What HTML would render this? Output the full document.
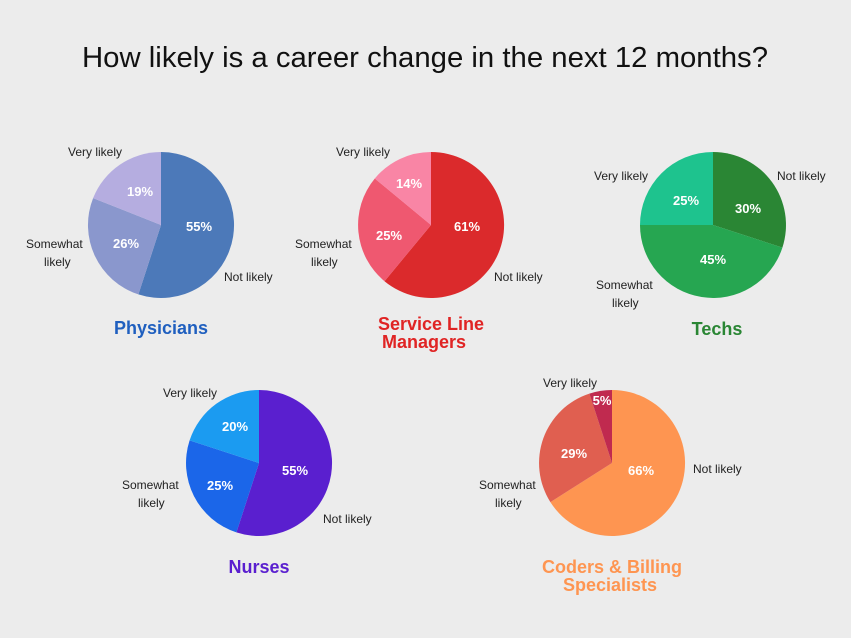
<!DOCTYPE html>
<html><head><meta charset="utf-8"><style>
html,body{margin:0;padding:0;background:#ececec;}
svg{display:block;font-family:"Liberation Sans",Arial,sans-serif;}
.l{font-size:12px;fill:#222;}
.p{font-size:13px;fill:#fff;font-weight:bold;text-anchor:middle;}
.t{font-size:18px;font-weight:bold;text-anchor:middle;}
</style></head><body>
<svg width="851" height="638" viewBox="0 0 851 638">
<rect width="851" height="638" fill="#ececec"/>
<text x="425" y="67" text-anchor="middle" font-size="29" fill="#111" textLength="686" lengthAdjust="spacingAndGlyphs">How likely is a career change in the next 12 months?</text>

<!-- Physicians -->
<path d="M161,225 L161,152 A73,73 0 1,1 138.4,294.4 Z" fill="#4c79b9"/>
<path d="M161,225 L138.4,294.4 A73,73 0 0,1 93.1,198.1 Z" fill="#8a97cd"/>
<path d="M161,225 L93.1,198.1 A73,73 0 0,1 161,152 Z" fill="#b5ade0"/>
<text class="p" x="199" y="231">55%</text>
<text class="p" x="126" y="248">26%</text>
<text class="p" x="140" y="196">19%</text>
<text class="l" x="68" y="156">Very likely</text>
<text class="l" x="26" y="248">Somewhat</text>
<text class="l" x="44" y="266">likely</text>
<text class="l" x="224" y="281">Not likely</text>
<text class="t" x="161" y="334" fill="#1f5fbf">Physicians</text>

<!-- Service Line -->
<path d="M431,225 L431,152 A73,73 0 1,1 384.5,281.2 Z" fill="#db2a2c"/>
<path d="M431,225 L384.5,281.2 A73,73 0 0,1 374.8,178.5 Z" fill="#ef5870"/>
<path d="M431,225 L374.8,178.5 A73,73 0 0,1 431,152 Z" fill="#f985a5"/>
<text class="p" x="467" y="231">61%</text>
<text class="p" x="389" y="240">25%</text>
<text class="p" x="409" y="188">14%</text>
<text class="l" x="336" y="156">Very likely</text>
<text class="l" x="295" y="248">Somewhat</text>
<text class="l" x="311" y="266">likely</text>
<text class="l" x="494" y="281">Not likely</text>
<text class="t" x="431" y="330" fill="#e02424">Service Line</text>
<text class="t" x="424" y="348" fill="#e02424">Managers</text>

<!-- Techs -->
<path d="M713,225 L713,152 A73,73 0 0,1 782.4,247.6 Z" fill="#2a8634"/>
<path d="M713,225 L782.4,247.6 A73,73 0 0,1 640,225 Z" fill="#26a651"/>
<path d="M713,225 L640,225 A73,73 0 0,1 713,152 Z" fill="#1ec38e"/>
<text class="p" x="748" y="213">30%</text>
<text class="p" x="713" y="264">45%</text>
<text class="p" x="686" y="205">25%</text>
<text class="l" x="594" y="180">Very likely</text>
<text class="l" x="777" y="180">Not likely</text>
<text class="l" x="596" y="289">Somewhat</text>
<text class="l" x="612" y="307">likely</text>
<text class="t" x="717" y="335" fill="#2a8634">Techs</text>

<!-- Nurses -->
<path d="M259,463 L259,390 A73,73 0 1,1 236.4,532.4 Z" fill="#5a1fcf"/>
<path d="M259,463 L236.4,532.4 A73,73 0 0,1 189.6,440.4 Z" fill="#1b66e9"/>
<path d="M259,463 L189.6,440.4 A73,73 0 0,1 259,390 Z" fill="#1b9bf1"/>
<text class="p" x="295" y="475">55%</text>
<text class="p" x="220" y="490">25%</text>
<text class="p" x="235" y="431">20%</text>
<text class="l" x="163" y="397">Very likely</text>
<text class="l" x="122" y="489">Somewhat</text>
<text class="l" x="138" y="507">likely</text>
<text class="l" x="323" y="523">Not likely</text>
<text class="t" x="259" y="573" fill="#5a1fcf">Nurses</text>

<!-- Coders -->
<path d="M612,463 L612,390 A73,73 0 1,1 550.4,502.1 Z" fill="#fe9551"/>
<path d="M612,463 L550.4,502.1 A73,73 0 0,1 589.4,393.6 Z" fill="#e05f50"/>
<path d="M612,463 L589.4,393.6 A73,73 0 0,1 612,390 Z" fill="#c02a4f"/>
<text class="p" x="641" y="475">66%</text>
<text class="p" x="574" y="458">29%</text>
<text class="p" x="602" y="405">5%</text>
<text class="l" x="543" y="387">Very likely</text>
<text class="l" x="693" y="473">Not likely</text>
<text class="l" x="479" y="489">Somewhat</text>
<text class="l" x="495" y="507">likely</text>
<text class="t" x="612" y="573" fill="#fe9551">Coders &amp; Billing</text>
<text class="t" x="610" y="591" fill="#fe9551">Specialists</text>
</svg>
</body></html>
